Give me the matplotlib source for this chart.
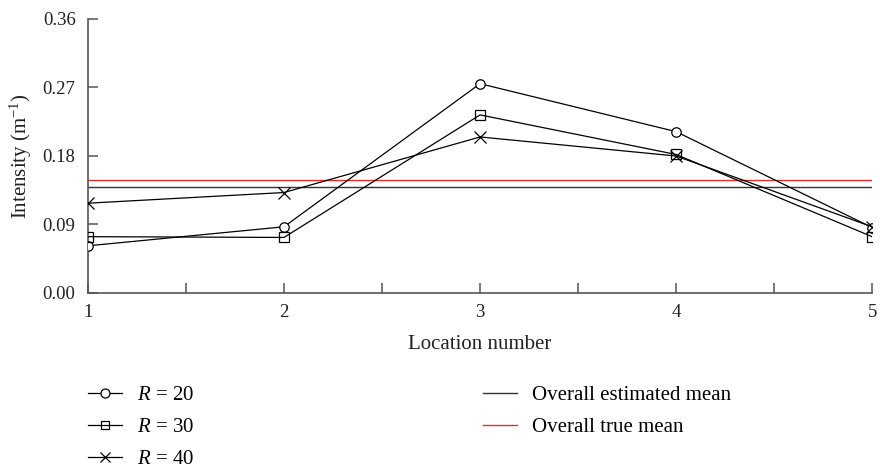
import matplotlib
matplotlib.use("Agg")
import matplotlib.pyplot as plt
import numpy as np

plt.rcParams['font.family'] = ['Liberation Serif', 'DejaVu Serif']
plt.rcParams['mathtext.fontset'] = 'custom'
plt.rcParams['mathtext.rm'] = 'Liberation Serif'
plt.rcParams['mathtext.it'] = 'Liberation Serif:italic'

locations = [1, 2, 3, 4, 5]
r20 = [0.062, 0.087, 0.275, 0.212, 0.086]
r30 = [0.074, 0.073, 0.234, 0.182, 0.074]
r40 = [0.118, 0.132, 0.205, 0.180, 0.087]
est_mean = 0.1397
true_mean = 0.148
yticks = [0.00, 0.09, 0.18, 0.27, 0.36]

fig = plt.figure(figsize=(8.8, 4.7), dpi=100)
ax = fig.add_axes([0.1, 0.3766, 0.891, 0.583])

lw = 0.9
l1, = ax.plot(locations, r20, color='black', lw=lw, marker='o', ms=6.8, mfc='white', mec='black', mew=0.9, label=r'$R$ = 20', zorder=3)
l2, = ax.plot(locations, r30, color='black', lw=lw, marker='s', ms=6.8, mfc='none', mec='black', mew=0.9, label=r'$R$ = 30', zorder=3)
l3, = ax.plot(locations, r40, color='black', lw=lw, marker='x', ms=8, mec='black', mew=0.9, label=r'$R$ = 40', zorder=3)
l4 = ax.axhline(est_mean, color='#333333', lw=1.0, label='Overall estimated mean')
l5 = ax.axhline(true_mean, color='#e8302a', lw=1.0, label='Overall true mean')

ax.set_xlim(1, 5)
ax.set_ylim(0, 0.36)
ax.set_yticks(yticks)
ax.set_yticklabels([f"{v:.2f}" for v in yticks])
ax.set_xticks(locations)
ax.set_xticks([1.5, 2.5, 3.5, 4.5], minor=True)

for s in ['top', 'right']:
    ax.spines[s].set_visible(False)
for s in ['left', 'bottom']:
    ax.spines[s].set_color('#555555')
    ax.spines[s].set_linewidth(1.2)

ax.tick_params(axis='both', which='both', direction='in', length=7, width=1.1, color='#555555', labelsize=13.5, labelcolor='#222222')
ax.tick_params(axis='x', which='both', pad=8)
ax.tick_params(axis='y', which='both', pad=9)

ax.set_xlabel('Location number', fontsize=15, labelpad=10, color='#222222')
ax.set_ylabel(r'Intensity (m$^{-1}$)', fontsize=15, labelpad=6, color='#222222')

common = dict(loc='upper left', frameon=False, fontsize=15, handlelength=1.65, handletextpad=0.7,
              labelspacing=0.6, borderpad=0, borderaxespad=0)
fig.legend(handles=[l1, l2, l3], bbox_to_anchor=(0.1, 0.18), markerscale=0.95, **common)
fig.legend(handles=[l4, l5], bbox_to_anchor=(0.549, 0.18), **common)

fig.savefig('out.png', dpi=100)
